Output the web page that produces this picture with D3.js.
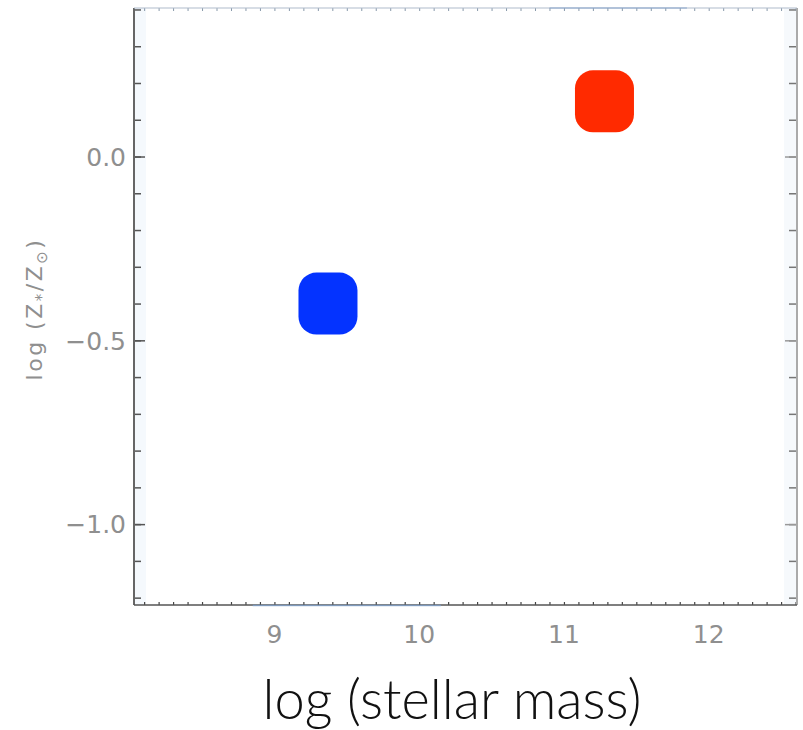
<!DOCTYPE html>
<html>
<head>
<meta charset="utf-8">
<script src="https://cdn.jsdelivr.net/npm/d3@7"></script>
<style>
  html, body { margin: 0; padding: 0; background: #fff; }
  svg { display: block; }
  .tick-label { font-family: "DejaVu Sans", sans-serif; font-size: 25px; fill: #8f8f8f; }
</style>
</head>
<body>
<div id="chart"></div>
<script>
// data
const massValues = [9.37, 11.28];          // log (stellar mass)
const metalValues = [-0.40, 0.15];         // log (Z*/Zsun)
const pointColors = ["#0433ff", "#ff2a00"];
const xTickValues = [9, 10, 11, 12];
const yTickValues = [0.0, -0.5, -1.0];
const yTickLabels = ["0.0", "\u22120.5", "\u22121.0"];

const width = 803, height = 730;
const frame = { left: 134, right: 797, top: 8, bottom: 605 };

const svg = d3.select("#chart").append("svg")
    .attr("width", width)
    .attr("height", height);

const x = d3.scaleLinear().domain([8.03, 12.61]).range([frame.left, frame.right]);
const y = d3.scaleLinear().domain([-1.22, 0.404]).range([frame.bottom, frame.top]);

// faint tint along the frame edges (scan look of the original)
svg.append("rect")
    .attr("x", frame.left).attr("y", frame.top)
    .attr("width", 12).attr("height", frame.bottom - frame.top)
    .attr("fill", "#f5f9fd");
svg.append("rect")
    .attr("x", frame.right - 13).attr("y", frame.top)
    .attr("width", 13).attr("height", frame.bottom - frame.top)
    .attr("fill", "#f6f9fc");

const minorX = d3.range(81, 127).map(d => d / 10);
const minorY = d3.range(-12, 5).map(d => d / 10);

// left axis, ticks pointing inward
svg.append("g")
    .attr("transform", `translate(${frame.left},0)`)
    .call(d3.axisLeft(y).tickValues(minorY).tickSize(-7).tickFormat(""))
    .call(g => g.select(".domain").remove())
    .call(g => g.selectAll("line").attr("stroke", "#555").attr("stroke-width", 1.5));
svg.append("g")
    .attr("transform", `translate(${frame.left},0)`)
    .call(d3.axisLeft(y).tickValues(yTickValues).tickSize(-11).tickFormat(""))
    .call(g => g.select(".domain").remove())
    .call(g => g.selectAll("line").attr("stroke", "#555").attr("stroke-width", 1.5));

// right axis, ticks pointing inward
svg.append("g")
    .attr("transform", `translate(${frame.right},0)`)
    .call(d3.axisRight(y).tickValues(minorY).tickSize(-8).tickFormat(""))
    .call(g => g.select(".domain").remove())
    .call(g => g.selectAll("line").attr("stroke", "#777").attr("stroke-width", 1.5));
svg.append("g")
    .attr("transform", `translate(${frame.right},0)`)
    .call(d3.axisRight(y).tickValues(yTickValues).tickSize(-12).tickFormat(""))
    .call(g => g.select(".domain").remove())
    .call(g => g.selectAll("line").attr("stroke", "#999").attr("stroke-width", 1.5));

// bottom and top axes, small inward ticks
svg.append("g")
    .attr("transform", `translate(0,${frame.bottom})`)
    .call(d3.axisBottom(x).tickValues(minorX).tickSize(-3).tickFormat(""))
    .call(g => g.select(".domain").remove())
    .call(g => g.selectAll("line").attr("stroke", "#444").attr("stroke-width", 1.2));
svg.append("g")
    .attr("transform", `translate(0,${frame.top})`)
    .call(d3.axisTop(x).tickValues(minorX).tickSize(-3).tickFormat(""))
    .call(g => g.select(".domain").remove())
    .call(g => g.selectAll("line").attr("stroke", "#8899aa").attr("stroke-width", 1));

// frame
svg.append("line").attr("x1", frame.left).attr("x2", frame.left)
    .attr("y1", frame.top).attr("y2", frame.bottom)
    .attr("stroke", "#666").attr("stroke-width", 2);
svg.append("line").attr("x1", frame.right).attr("x2", frame.right)
    .attr("y1", frame.top).attr("y2", frame.bottom)
    .attr("stroke", "#aaa").attr("stroke-width", 2);
svg.append("line").attr("x1", frame.left).attr("x2", frame.right)
    .attr("y1", frame.bottom).attr("y2", frame.bottom)
    .attr("stroke", "#555").attr("stroke-width", 1.5);
svg.append("line").attr("x1", frame.left).attr("x2", frame.right)
    .attr("y1", frame.top).attr("y2", frame.top)
    .attr("stroke", "#b0bccb").attr("stroke-width", 1.2);
// bluish streaks on the horizontal edges
svg.append("line").attr("x1", x(8.85)).attr("x2", x(10.15))
    .attr("y1", frame.bottom + 0.5).attr("y2", frame.bottom + 0.5)
    .attr("stroke", "#7fa6d6").attr("stroke-width", 1.5).attr("opacity", 0.7);
svg.append("line").attr("x1", x(10.9)).attr("x2", x(11.85))
    .attr("y1", frame.top).attr("y2", frame.top)
    .attr("stroke", "#6f93c4").attr("stroke-width", 1.2).attr("opacity", 0.7);

// tick labels
svg.append("g").selectAll("text")
    .data(yTickValues)
    .join("text")
    .attr("class", "tick-label")
    .attr("x", 126)
    .attr("y", d => y(d))
    .attr("dy", "0.37em")
    .attr("text-anchor", "end")
    .text((d, i) => yTickLabels[i]);

svg.append("g").selectAll("text")
    .data(xTickValues)
    .join("text")
    .attr("class", "tick-label")
    .attr("x", d => x(d))
    .attr("y", 643)
    .attr("text-anchor", "middle")
    .text(d => d);

// y title, rotated
const yTitle = svg.append("text")
    .attr("transform", "translate(42,309) rotate(-90)")
    .attr("text-anchor", "middle")
    .attr("font-family", "DejaVu Sans, sans-serif")
    .attr("font-size", 22)
    .attr("letter-spacing", 2.5)
    .attr("fill", "#8f8f8f");
yTitle.append("tspan").text("log (Z");
yTitle.append("tspan").attr("font-size", 15).attr("dy", 5).text("*");
yTitle.append("tspan").attr("dy", -5).text("/Z");
yTitle.append("tspan").attr("font-size", 15).attr("dy", 5).text("\u2299");
yTitle.append("tspan").attr("dy", -5).text(")");

// x title, sized to span the same width as the original
const xTitle = svg.append("text")
    .attr("x", 452)
    .attr("y", 719)
    .attr("text-anchor", "middle")
    .attr("font-family", "Lato, sans-serif")
    .attr("font-weight", 300)
    .attr("font-size", 50)
    .attr("fill", "#111")
    .text("log (stellar mass)");
const len = xTitle.node().getComputedTextLength();
xTitle.attr("font-size", 50 * 379 / len);

// points as rounded squares
const markW = 59, markH = 62;
svg.append("g").selectAll("rect")
    .data(massValues)
    .join("rect")
    .attr("x", d => x(d) - markW / 2)
    .attr("y", (d, i) => y(metalValues[i]) - markH / 2)
    .attr("width", markW)
    .attr("height", markH)
    .attr("rx", 18)
    .attr("fill", (d, i) => pointColors[i]);
</script>
</body>
</html>
